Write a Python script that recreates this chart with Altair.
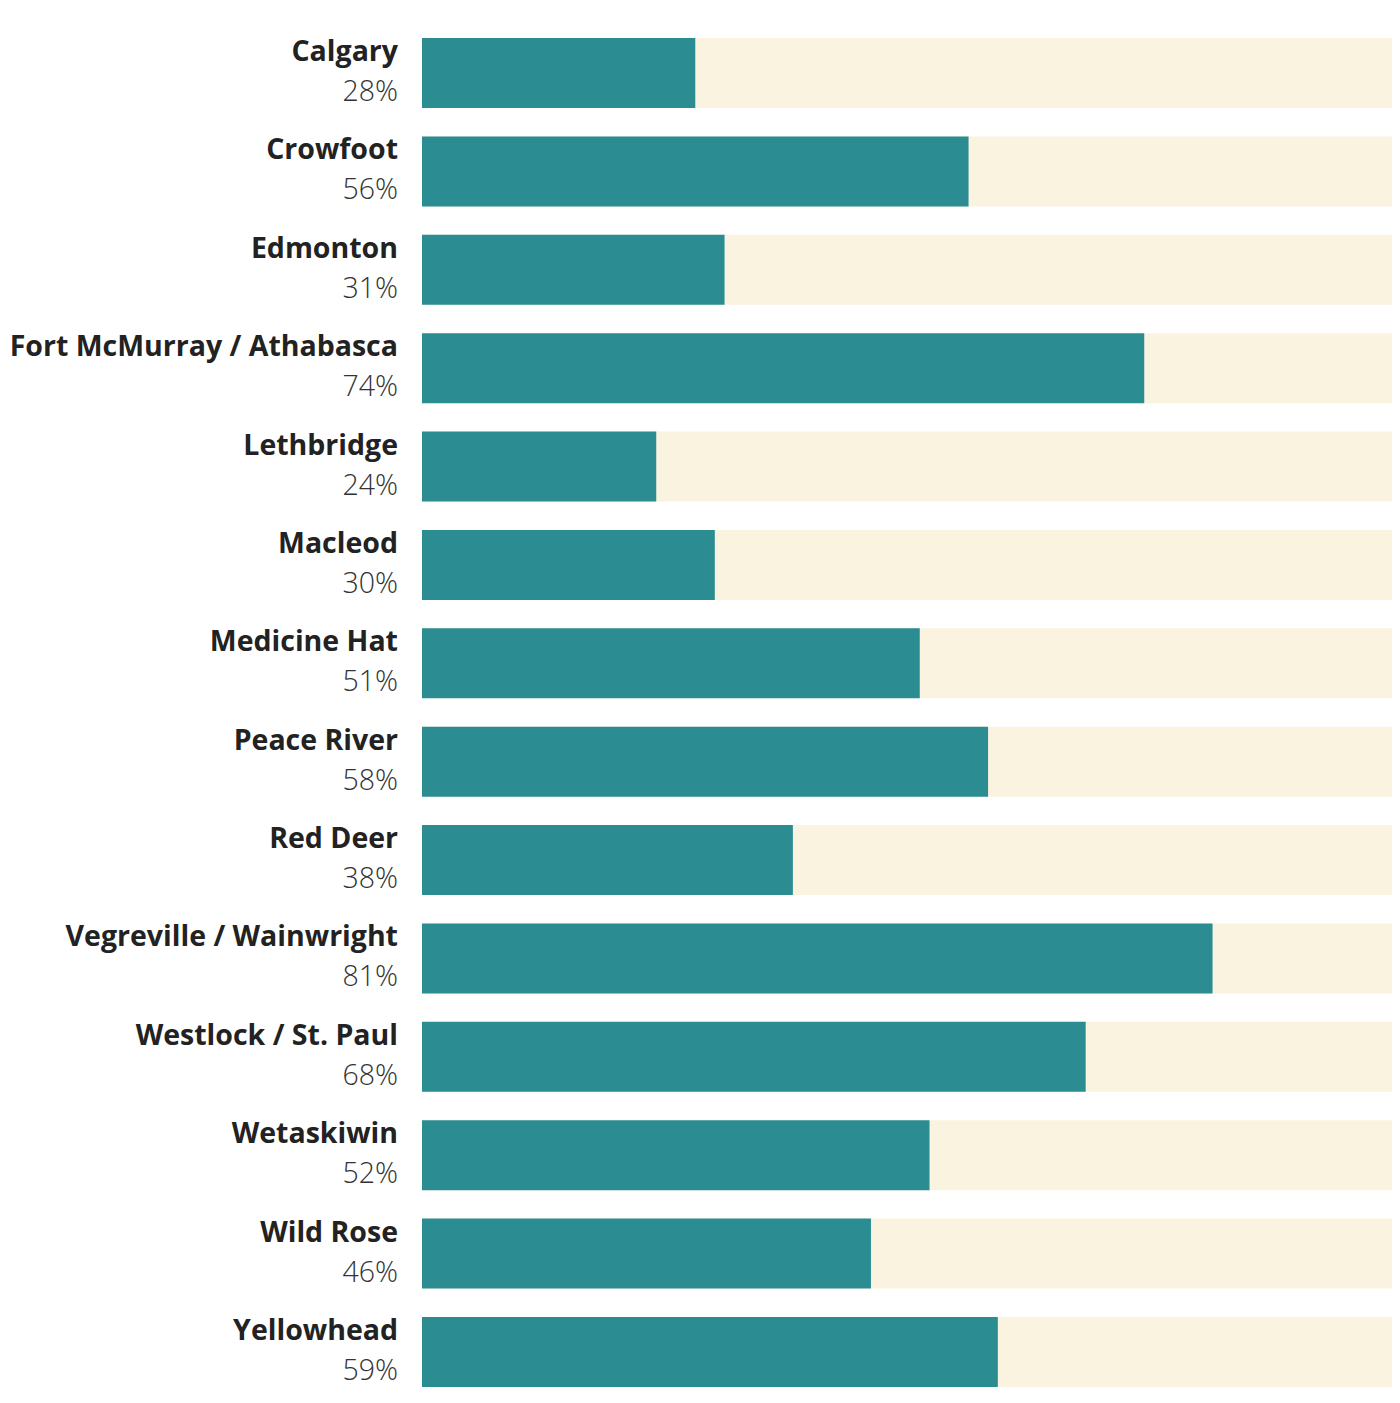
import altair as alt
import pandas as pd

ridings = ["Calgary", "Crowfoot", "Edmonton", "Fort McMurray / Athabasca", "Lethbridge",
           "Macleod", "Medicine Hat", "Peace River", "Red Deer", "Vegreville / Wainwright",
           "Westlock / St. Paul", "Wetaskiwin", "Wild Rose", "Yellowhead"]
values = [28, 56, 31, 74, 24, 30, 51, 58, 38, 81, 68, 52, 46, 59]

df = pd.DataFrame({"name": ridings, "value": values, "full": [100] * len(ridings)})
df["label"] = df["value"].astype(str) + "%"

FONT = "Open Sans"
yenc = alt.Y("name:N", sort=ridings, axis=None,
             scale=alt.Scale(paddingInner=0.2886, paddingOuter=0))
xscale = alt.Scale(domain=[0, 100], range=[0, 976])

base = alt.Chart(df)

bg = base.mark_bar(color="#faf3df").encode(
    x=alt.X("full:Q", scale=xscale, axis=None), y=yenc)
fg = base.mark_bar(color="#2b8c92").encode(
    x=alt.X("value:Q", scale=xscale, axis=None), y=yenc)
names = base.mark_text(align="right", baseline="alphabetic", dy=-12, font=FONT,
                       fontSize=28.5, fontWeight="bold", color="#222222").encode(
    x=alt.value(-24), y=yenc, text="name:N")
pcts = base.mark_text(align="right", baseline="alphabetic", dy=28, font=FONT,
                      fontSize=28.5, fontWeight=300, color="#333333").encode(
    x=alt.value(-24), y=yenc, text="label:N")

chart = alt.layer(bg, fg, names, pcts).properties(
    width=970, height=1349,
    autosize=alt.AutoSizeParams(type="none"),
    padding={"left": 414, "top": 30, "right": 0, "bottom": 0},
).configure_view(stroke=None)

chart.save("out.html", embed_options={"renderer": "svg", "actions": False})
